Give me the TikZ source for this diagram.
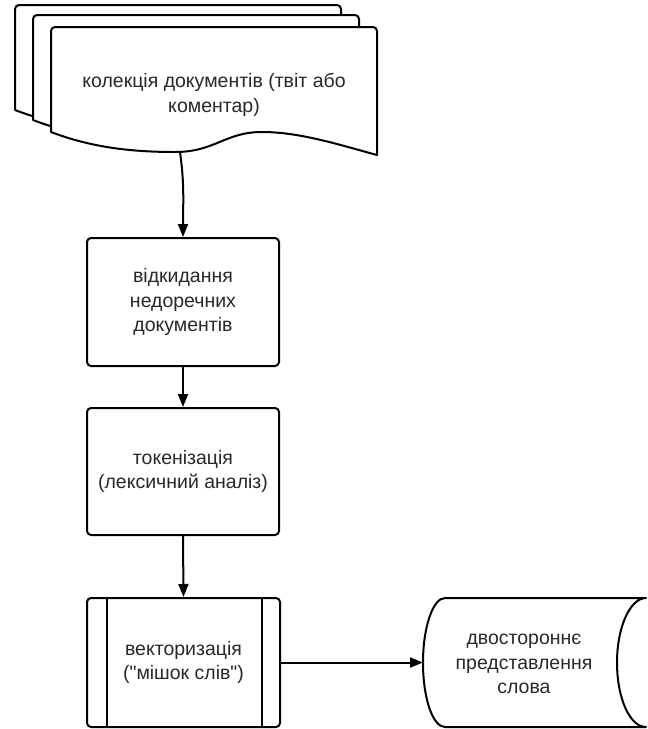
\documentclass[tikz,border=0pt]{standalone}
\usepackage{fontspec}
\setmainfont{Liberation Sans}
\newfontfamily\plainfont{Liberation Sans}
\usetikzlibrary{arrows.meta}
\definecolor{txt}{RGB}{40,40,40}
\begin{document}
\begin{tikzpicture}[x=1pt,y=-1pt,
  line width=2pt, line join=round,
  lbl/.style={text=txt, align=center, font=\plainfont\fontsize{19.5}{24.5}\selectfont, inner sep=0pt},
  procbox/.style={draw, rounded corners=4pt, line width=2pt, minimum width=192pt, inner sep=0pt, fill=white},
  arr/.style={-{Triangle[length=13pt,width=10pt]}, line width=2pt},
  sheet/.style={draw, fill=white, line width=2pt}]
\useasboundingbox (0,0) rectangle (648,729);
% multi-document sheets (back to front)
\foreach \dx/\dy in {-36/-22,-18/-12,0/0}{
  \begin{scope}[shift={(\dx,\dy)}]
  \draw[sheet] (51,132) [rounded corners=4pt] -- (51,27) -- (377,27) [sharp corners] -- (377,155)
    .. controls (340,145) and (300,132) .. (262,132)
    .. controls (225,132) and (215,152) .. (175,152)
    .. controls (130,152) and (90,147) .. (51,132) -- cycle;
  \end{scope}
}
\coordinate (docdip) at (180,152);
\node[lbl] (doc) at (214,95) {колекція документів (твіт або\\коментар)};
% process boxes
\node[procbox, minimum height=128pt] (box1) at (183,302) {};
\node[lbl] (t1) at (box1.center) {відкидання\\недоречних\\документів};
\node[procbox, minimum height=127pt] (box2) at (183,471.5) {};
\node[lbl] (t2) at (box2.center) {токенізація\\(лексичний аналіз)};
\node[procbox, minimum height=129pt, minimum width=193pt] (box3) at (183.5,662.5) {};
\draw (107,598) -- (107,727);
\draw (262,598) -- (262,727);
\node[lbl] (t3) at (box3.center) {векторизація\\("мішок слів")};
% stored data
\draw (445,598) -- (646,598)
  .. controls (630,598) and (617,627.4) .. (617,662.5)
  .. controls (617,698.6) and (630,727) .. (646,727)
  -- (445,727)
  .. controls (432.85,727) and (423,698.6) .. (423,662.5)
  .. controls (423,627.4) and (432.85,598) .. (445,598) -- cycle;
\coordinate (storeW) at (423,662.5);
\node[lbl] (store) at (524,664) {двостороннє\\представлення\\слова};
% connectors
\draw[arr] (docdip) to[out=-82,in=90] (box1.north);
\draw[arr] (box1.south) -- (box2.north);
\draw[arr] (box2.south) -- (box3.north);
\draw[arr] (box3.east) -- (storeW);
\end{tikzpicture}
\end{document}
